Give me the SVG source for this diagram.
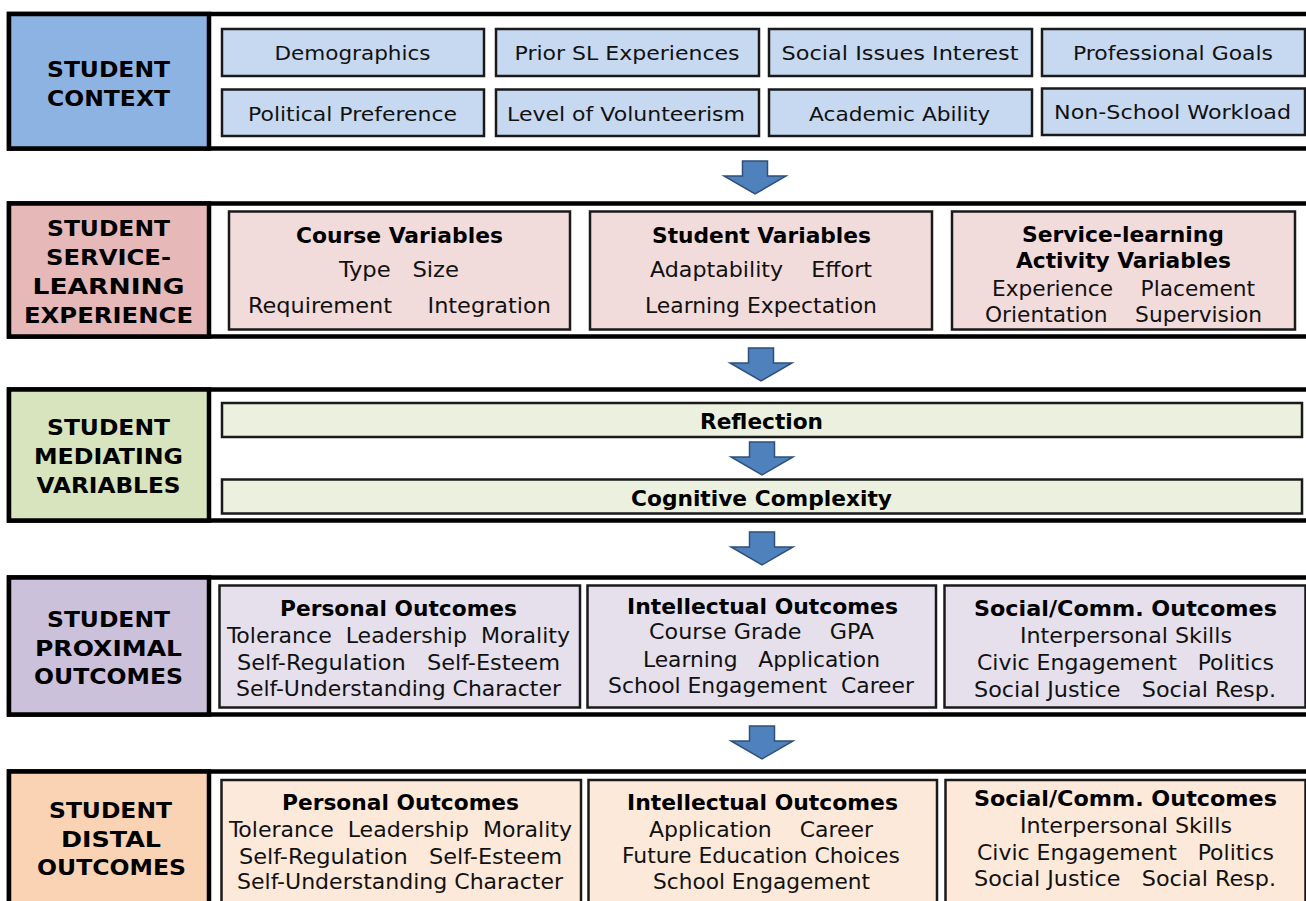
<svg xmlns="http://www.w3.org/2000/svg" width="1306" height="901" viewBox="0 0 1306 901">
<style>
.band{fill:#fff;stroke:#000;stroke-width:4.5}
.lbl{stroke:#000;stroke-width:4.5}
.box{stroke:#1a1a1a;stroke-width:2.5}
.h{font-family:'DejaVu Sans',Verdana,sans-serif;font-weight:bold;font-size:22px;text-anchor:middle;fill:#000}
.t1{font-family:'DejaVu Sans',Verdana,sans-serif;font-size:20px;text-anchor:middle;fill:#111}
.hb{font-family:'DejaVu Sans Condensed','DejaVu Sans',sans-serif;font-weight:bold;font-size:21px;text-anchor:middle;fill:#000}
.tb{font-family:'DejaVu Sans Condensed','DejaVu Sans',sans-serif;font-size:22px;text-anchor:middle;fill:#111;white-space:pre}
.arrow{fill:#4F81BD;stroke:#2F4F7A;stroke-width:1.5}
</style>
<defs>
<path id="arw" d="M-12.5,0 H12.5 V15 H31 L0,33 L-31,15 H-12.5 Z"/>
</defs>
<rect width="1306" height="901" fill="#fff"/>

<g id="context">
<rect class="band" x="9" y="14" width="1320" height="134.5"/>
<rect class="lbl" x="9" y="14" width="200" height="134.5" fill="#8DB3E2"/>
<text class="h" x="108.5" y="77" textLength="123" lengthAdjust="spacingAndGlyphs">STUDENT</text>
<text class="h" x="108.5" y="106" textLength="123" lengthAdjust="spacingAndGlyphs">CONTEXT</text>
<g fill="#C6D9F1">
<rect class="box" x="222" y="29" width="262" height="47"/>
<rect class="box" x="496" y="29" width="263" height="47"/>
<rect class="box" x="769" y="29" width="263" height="47"/>
<rect class="box" x="1042" y="29" width="263" height="47"/>
<rect class="box" x="222" y="89.5" width="262" height="46.5"/>
<rect class="box" x="496" y="89.5" width="263" height="46.5"/>
<rect class="box" x="769" y="89.5" width="263" height="46.5"/>
<rect class="box" x="1042" y="88.5" width="263" height="46.5"/>
</g>
<text class="t1" x="352.5" y="60" textLength="156" lengthAdjust="spacingAndGlyphs">Demographics</text>
<text class="t1" x="627" y="60" textLength="225" lengthAdjust="spacingAndGlyphs">Prior SL Experiences</text>
<text class="t1" x="900" y="60" textLength="237" lengthAdjust="spacingAndGlyphs">Social Issues Interest</text>
<text class="t1" x="1173" y="60" textLength="200" lengthAdjust="spacingAndGlyphs">Professional Goals</text>
<text class="t1" x="352.5" y="121" textLength="209" lengthAdjust="spacingAndGlyphs">Political Preference</text>
<text class="t1" x="626" y="121" textLength="238" lengthAdjust="spacingAndGlyphs">Level of Volunteerism</text>
<text class="t1" x="899.5" y="121" textLength="181" lengthAdjust="spacingAndGlyphs">Academic Ability</text>
<text class="t1" x="1172.5" y="119" textLength="237" lengthAdjust="spacingAndGlyphs">Non-School Workload</text>
</g>

<g id="experience">
<rect class="band" x="9" y="203.5" width="1320" height="133"/>
<rect class="lbl" x="9" y="203.5" width="200" height="133" fill="#E6B9B8"/>
<text class="h" x="108.5" y="236" textLength="123" lengthAdjust="spacingAndGlyphs">STUDENT</text>
<text class="h" x="108.5" y="265" textLength="125" lengthAdjust="spacingAndGlyphs">SERVICE-</text>
<text class="h" x="108.5" y="294" textLength="152" lengthAdjust="spacingAndGlyphs">LEARNING</text>
<text class="h" x="108.5" y="323" textLength="169" lengthAdjust="spacingAndGlyphs">EXPERIENCE</text>
<g fill="#F2DCDB">
<rect class="box" x="229" y="211.5" width="341" height="118"/>
<rect class="box" x="590" y="211.5" width="342" height="118"/>
<rect class="box" x="952" y="211.5" width="343" height="118"/>
</g>
<text class="hb" x="399.5" y="243" textLength="207" lengthAdjust="spacingAndGlyphs">Course Variables</text>
<text class="tb" x="399" y="277" textLength="120" lengthAdjust="spacingAndGlyphs">Type   Size</text>
<text class="tb" x="399.5" y="313" textLength="303" lengthAdjust="spacingAndGlyphs">Requirement     Integration</text>
<text class="hb" x="761.5" y="243" textLength="219" lengthAdjust="spacingAndGlyphs">Student Variables</text>
<text class="tb" x="761" y="277" textLength="222" lengthAdjust="spacingAndGlyphs">Adaptability    Effort</text>
<text class="tb" x="761" y="313" textLength="232" lengthAdjust="spacingAndGlyphs">Learning Expectation</text>
<text class="hb" x="1123" y="242" textLength="202" lengthAdjust="spacingAndGlyphs">Service-learning</text>
<text class="hb" x="1123.5" y="268" textLength="215" lengthAdjust="spacingAndGlyphs">Activity Variables</text>
<text class="tb" x="1123.5" y="296" textLength="263" lengthAdjust="spacingAndGlyphs">Experience    Placement</text>
<text class="tb" x="1123.5" y="322" textLength="277" lengthAdjust="spacingAndGlyphs">Orientation    Supervision</text>
</g>

<g id="mediating">
<rect class="band" x="9" y="389.5" width="1320" height="131"/>
<rect class="lbl" x="9" y="389.5" width="200" height="131" fill="#D7E4BD"/>
<text class="h" x="108.5" y="435" textLength="123" lengthAdjust="spacingAndGlyphs">STUDENT</text>
<text class="h" x="108.5" y="464" textLength="149" lengthAdjust="spacingAndGlyphs">MEDIATING</text>
<text class="h" x="108.5" y="493" textLength="144" lengthAdjust="spacingAndGlyphs">VARIABLES</text>
<g fill="#EBF1DE">
<rect class="box" x="222" y="403" width="1080" height="34"/>
<rect class="box" x="222" y="479.5" width="1080" height="34"/>
</g>
<text class="hb" x="761.5" y="429" textLength="123" lengthAdjust="spacingAndGlyphs">Reflection</text>
<text class="hb" x="761.5" y="506" textLength="261" lengthAdjust="spacingAndGlyphs">Cognitive Complexity</text>
</g>

<g id="proximal">
<rect class="band" x="9" y="577.5" width="1320" height="137"/>
<rect class="lbl" x="9" y="577.5" width="200" height="137" fill="#CCC1DA"/>
<text class="h" x="108.5" y="627" textLength="123" lengthAdjust="spacingAndGlyphs">STUDENT</text>
<text class="h" x="108.5" y="656" textLength="147" lengthAdjust="spacingAndGlyphs">PROXIMAL</text>
<text class="h" x="108.5" y="684" textLength="149" lengthAdjust="spacingAndGlyphs">OUTCOMES</text>
<g fill="#E5E0EC">
<rect class="box" x="219.5" y="585.5" width="360.5" height="122"/>
<rect class="box" x="587.5" y="585.5" width="348.5" height="122"/>
<rect class="box" x="944.5" y="585.5" width="361" height="122"/>
</g>
<text class="hb" x="398.5" y="616" textLength="237" lengthAdjust="spacingAndGlyphs">Personal Outcomes</text>
<text class="tb" x="398.5" y="643" textLength="343" lengthAdjust="spacingAndGlyphs">Tolerance  Leadership  Morality</text>
<text class="tb" x="398.5" y="670" textLength="323" lengthAdjust="spacingAndGlyphs">Self-Regulation   Self-Esteem</text>
<text class="tb" x="398.5" y="696" textLength="325" lengthAdjust="spacingAndGlyphs">Self-Understanding Character</text>
<text class="hb" x="762.5" y="614" textLength="271" lengthAdjust="spacingAndGlyphs">Intellectual Outcomes</text>
<text class="tb" x="761.5" y="639" textLength="225" lengthAdjust="spacingAndGlyphs">Course Grade    GPA</text>
<text class="tb" x="761.5" y="667" textLength="237" lengthAdjust="spacingAndGlyphs">Learning   Application</text>
<text class="tb" x="761" y="693" textLength="306" lengthAdjust="spacingAndGlyphs">School Engagement  Career</text>
<text class="hb" x="1125.5" y="616" textLength="303" lengthAdjust="spacingAndGlyphs">Social/Comm. Outcomes</text>
<text class="tb" x="1126" y="643" textLength="212" lengthAdjust="spacingAndGlyphs">Interpersonal Skills</text>
<text class="tb" x="1125.5" y="670" textLength="297" lengthAdjust="spacingAndGlyphs">Civic Engagement   Politics</text>
<text class="tb" x="1125" y="697" textLength="302" lengthAdjust="spacingAndGlyphs">Social Justice   Social Resp.</text>
</g>

<g id="distal">
<rect class="band" x="9" y="771.5" width="1320" height="200"/>
<rect class="lbl" x="9" y="771.5" width="200" height="200" fill="#FAD3B4"/>
<text class="h" x="110.5" y="818" textLength="123" lengthAdjust="spacingAndGlyphs">STUDENT</text>
<text class="h" x="111" y="847" textLength="100" lengthAdjust="spacingAndGlyphs">DISTAL</text>
<text class="h" x="111.5" y="875" textLength="149" lengthAdjust="spacingAndGlyphs">OUTCOMES</text>
<g fill="#FDE9D9">
<rect class="box" x="221.5" y="780" width="359.5" height="130"/>
<rect class="box" x="588.5" y="780" width="348.5" height="130"/>
<rect class="box" x="945.5" y="780" width="360" height="130"/>
</g>
<text class="hb" x="400.5" y="810" textLength="237" lengthAdjust="spacingAndGlyphs">Personal Outcomes</text>
<text class="tb" x="400.5" y="837" textLength="343" lengthAdjust="spacingAndGlyphs">Tolerance  Leadership  Morality</text>
<text class="tb" x="400.5" y="864" textLength="323" lengthAdjust="spacingAndGlyphs">Self-Regulation   Self-Esteem</text>
<text class="tb" x="400" y="889" textLength="326" lengthAdjust="spacingAndGlyphs">Self-Understanding Character</text>
<text class="hb" x="762.5" y="810" textLength="271" lengthAdjust="spacingAndGlyphs">Intellectual Outcomes</text>
<text class="tb" x="761" y="837" textLength="224" lengthAdjust="spacingAndGlyphs">Application    Career</text>
<text class="tb" x="761" y="863" textLength="278" lengthAdjust="spacingAndGlyphs">Future Education Choices</text>
<text class="tb" x="761.5" y="889" textLength="217" lengthAdjust="spacingAndGlyphs">School Engagement</text>
<text class="hb" x="1125.5" y="806" textLength="303" lengthAdjust="spacingAndGlyphs">Social/Comm. Outcomes</text>
<text class="tb" x="1126" y="833" textLength="212" lengthAdjust="spacingAndGlyphs">Interpersonal Skills</text>
<text class="tb" x="1125.5" y="860" textLength="297" lengthAdjust="spacingAndGlyphs">Civic Engagement   Politics</text>
<text class="tb" x="1125" y="886" textLength="302" lengthAdjust="spacingAndGlyphs">Social Justice   Social Resp.</text>
</g>

<g id="connectors">
<use class="arrow" href="#arw" x="755" y="161"/>
<use class="arrow" href="#arw" x="761" y="348"/>
<use class="arrow" href="#arw" x="762" y="442"/>
<use class="arrow" href="#arw" x="762" y="532"/>
<use class="arrow" href="#arw" x="762" y="726"/>
</g>
</svg>
